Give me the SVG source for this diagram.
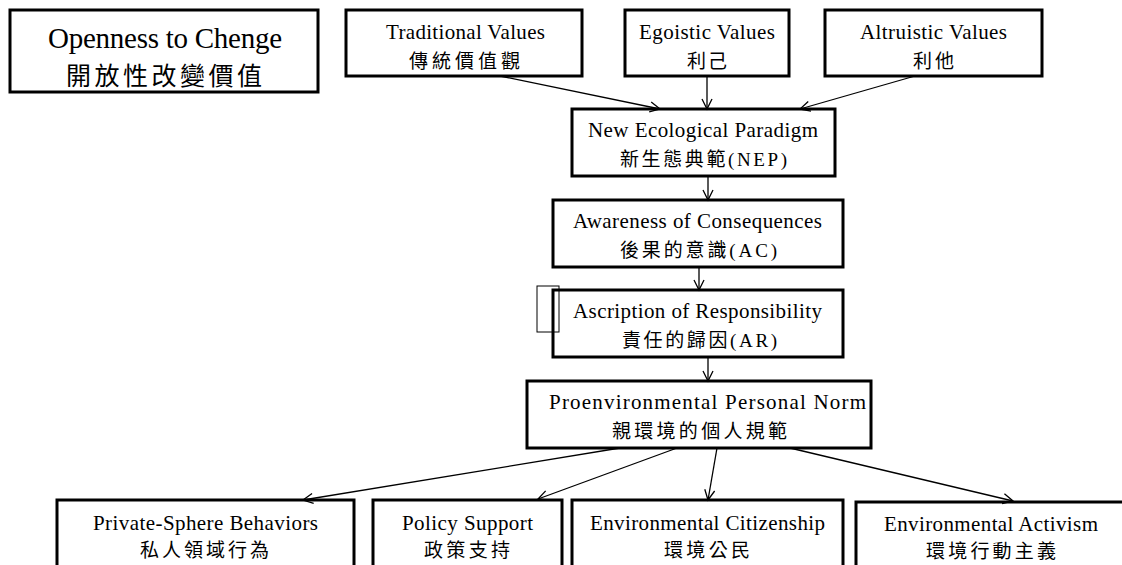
<svg xmlns="http://www.w3.org/2000/svg" width="1122" height="565" viewBox="0 0 1122 565">
<style>
.box{fill:#fff;stroke:#000;stroke-width:3}
.t{font-family:"Liberation Serif","Noto Sans CJK TC",serif;font-size:21px;fill:#000}
.c{font-family:"Liberation Serif","Noto Sans CJK TC",serif;font-size:19px;fill:#000}
.conn line{stroke:#000;stroke-width:1.3;marker-end:url(#arr)}
</style>
<defs>
<marker id="arr" markerUnits="userSpaceOnUse" markerWidth="14" markerHeight="14" refX="11" refY="6" orient="auto">
<path d="M1,1 L11,6 L1,11" fill="none" stroke="#000" stroke-width="1.3"/>
</marker>
</defs>
<rect width="1122" height="565" fill="#fff"/>

<g id="openness">
<rect class="box" x="10" y="10" width="308" height="82"/>
<text class="t" style="font-size:29px" x="48" y="48" textLength="234" lengthAdjust="spacing">Openness to Chenge</text>
<text class="c" style="font-size:25px" x="66" y="85" textLength="196" lengthAdjust="spacing">開放性改變價值</text>
</g>
<g id="traditional">
<rect class="box" x="346" y="10" width="236" height="66"/>
<text class="t" x="386" y="39" textLength="159" lengthAdjust="spacing">Traditional Values</text>
<text class="c" x="409" y="68" textLength="111" lengthAdjust="spacing">傳統價值觀</text>
</g>
<g id="egoistic">
<rect class="box" x="625" y="10" width="164" height="66"/>
<text class="t" x="639" y="39" textLength="136" lengthAdjust="spacing">Egoistic Values</text>
<text class="c" x="687" y="68" textLength="40" lengthAdjust="spacing">利己</text>
</g>
<g id="altruistic">
<rect class="box" x="825" y="10" width="217" height="66"/>
<text class="t" x="860" y="39" textLength="147" lengthAdjust="spacing">Altruistic Values</text>
<text class="c" x="913" y="68" textLength="41" lengthAdjust="spacing">利他</text>
</g>
<g id="nep">
<rect class="box" x="572" y="109" width="263" height="67"/>
<text class="t" x="588" y="137" textLength="230" lengthAdjust="spacing">New Ecological Paradigm</text>
<text class="c" x="620" y="166" textLength="167" lengthAdjust="spacing">新生態典範(NEP)</text>
</g>
<g id="ac">
<rect class="box" x="553" y="200" width="290" height="67"/>
<text class="t" x="573" y="228" textLength="249" lengthAdjust="spacing">Awareness of Consequences</text>
<text class="c" x="620" y="257" textLength="157" lengthAdjust="spacing">後果的意識(AC)</text>
</g>
<g id="ar">
<rect class="box" x="553" y="290" width="290" height="67"/>
<text class="t" x="573" y="318" textLength="249" lengthAdjust="spacing">Ascription of Responsibility</text>
<text class="c" x="622" y="347" textLength="155" lengthAdjust="spacing">責任的歸因(AR)</text>
<rect x="537" y="286" width="22" height="46" fill="none" stroke="#000" stroke-width="1"/>
</g>
<g id="pn">
<rect class="box" x="527" y="381" width="344" height="67"/>
<text class="t" x="549" y="409" textLength="317" lengthAdjust="spacing">Proenvironmental Personal Norm</text>
<text class="c" x="612" y="438" textLength="175" lengthAdjust="spacing">親環境的個人規範</text>
</g>
<g id="private">
<rect class="box" x="57" y="500" width="297" height="80"/>
<text class="t" x="93" y="530" textLength="225" lengthAdjust="spacing">Private-Sphere Behaviors</text>
<text class="c" x="140" y="557" textLength="129" lengthAdjust="spacing">私人領域行為</text>
</g>
<g id="policy">
<rect class="box" x="373" y="500" width="189" height="80"/>
<text class="t" x="402" y="530" textLength="131" lengthAdjust="spacing">Policy Support</text>
<text class="c" x="424" y="557" textLength="86" lengthAdjust="spacing">政策支持</text>
</g>
<g id="citizenship">
<rect class="box" x="572" y="500" width="271" height="80"/>
<text class="t" x="590" y="530" textLength="235" lengthAdjust="spacing">Environmental Citizenship</text>
<text class="c" x="664" y="557" textLength="86" lengthAdjust="spacing">環境公民</text>
</g>
<g id="activism">
<rect class="box" x="856" y="502" width="280" height="80"/>
<text class="t" x="884" y="531" textLength="214" lengthAdjust="spacing">Environmental Activism</text>
<text class="c" x="926" y="558" textLength="130" lengthAdjust="spacing">環境行動主義</text>
</g>

<g id="connectors" class="conn">
<line x1="500" y1="76" x2="660" y2="109"/>
<line x1="707" y1="76" x2="707" y2="109"/>
<line x1="915" y1="76" x2="800" y2="109"/>
<line x1="708" y1="176" x2="708" y2="200"/>
<line x1="699" y1="267" x2="699" y2="290"/>
<line x1="708" y1="357" x2="708" y2="381"/>
<line x1="620" y1="448" x2="303" y2="500"/>
<line x1="677" y1="448" x2="538" y2="499"/>
<line x1="717" y1="448" x2="708" y2="500"/>
<line x1="790" y1="448" x2="1013" y2="501"/>
</g>
</svg>
